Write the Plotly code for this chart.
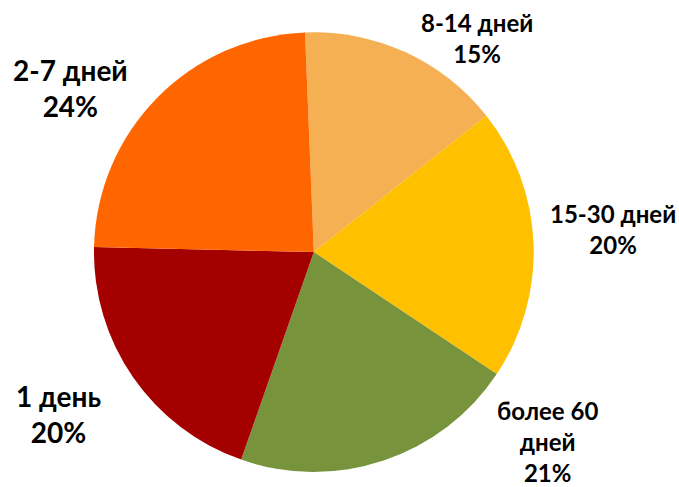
import plotly.graph_objects as go

labels = ["8-14 дней", "15-30 дней", "более 60<br>дней", "1 день", "2-7 дней"]
values = [15, 20, 21, 20, 24]
colors = ["#F4B052", "#FFC000", "#77933C", "#A50000", "#FF6600"]

# label placement (pixel centres in a 679x487 canvas) and font sizes
label_pos = [(477, 38), (613, 229), (547, 441), (58, 414), (70, 88)]
label_sizes = [24, 24, 24, 28, 28]

W, H = 679, 487

fig = go.Figure(go.Pie(
    labels=labels,
    values=values,
    sort=False,
    direction="clockwise",
    rotation=-2.3,
    marker=dict(colors=colors, line=dict(width=0)),
    textinfo="none",
    hoverinfo="label+percent",
    showlegend=False,
    domain=dict(x=[0.1384, 0.786], y=[0.0308, 0.934]),
))

total = sum(values)
for lab, val, (px, py), size in zip(labels, values, label_pos, label_sizes):
    fig.add_annotation(
        x=px / W, y=1 - py / H,
        xref="paper", yref="paper",
        xanchor="center", yanchor="middle",
        text=f"<b>{lab}<br>{round(val / total * 100)}%</b>",
        showarrow=False,
        align="center",
        font=dict(size=size, color="black", family="Lato, Arial"),
    )

fig.update_layout(
    width=W,
    height=H,
    margin=dict(l=0, r=0, t=0, b=0),
    paper_bgcolor="white",
)

# drop the default page margin so the figure sits at the window's corner
fig.write_html(
    "out.html",
    config={"displayModeBar": False},
    post_script="document.body.style.margin='0';",
)
